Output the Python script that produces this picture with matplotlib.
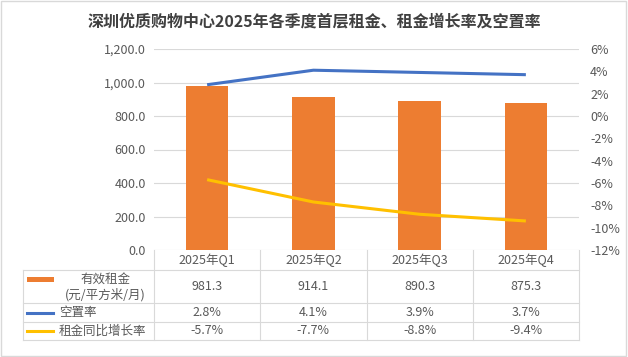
import matplotlib
matplotlib.use("Agg")
import matplotlib.pyplot as plt
from matplotlib.lines import Line2D
from matplotlib.patches import Rectangle
import matplotlib.ticker as mticker

plt.rcParams['font.family'] = ['Noto Sans CJK SC', 'DejaVu Sans']

# data
quarters = ['2025年Q1', '2025年Q2', '2025年Q3', '2025年Q4']
rent = [981.3, 914.1, 890.3, 875.3]          # 有效租金 (元/平方米/月)
vacancy = [2.8, 4.1, 3.9, 3.7]               # 空置率 %
rent_growth = [-5.7, -7.7, -8.8, -9.4]       # 租金同比增长率 %
row_labels = ['有效租金\n(元/平方米/月)', '空置率', '租金同比增长率']

title = '深圳优质购物中心2025年各季度首层租金、租金增长率及空置率'

ORANGE = '#ED7D31'
BLUE = '#4472C4'
YELLOW = '#FFC000'
GRID = '#D9D9D9'
TXT = '#595959'

W, H = 628, 357
fig = plt.figure(figsize=(W / 100, H / 100), dpi=100)


def fx(px):
    return px / W


def fy(py):
    return 1 - py / H


ax_l, ax_r, ax_t, ax_b = 154, 579, 49, 250
ax = fig.add_axes([fx(ax_l), fy(ax_b), fx(ax_r - ax_l), (ax_b - ax_t) / H])
x = list(range(len(quarters)))
ax.bar(x, rent, width=0.4, color=ORANGE, zorder=2)
ax.set_xlim(-0.5, len(quarters) - 0.5)
ax.set_ylim(0, 1200)
ax.set_yticks(range(0, 1201, 200))
ax.yaxis.set_major_formatter(mticker.FuncFormatter(lambda v, p: format(v, ',.1f')))
ax.grid(axis='y', color=GRID, lw=0.8, zorder=0)
ax.set_xticks([])
for s in ax.spines.values():
    s.set_visible(False)
ax.tick_params(axis='y', length=0, labelsize=9, labelcolor=TXT, pad=6)

ax2 = ax.twinx()
ax2.plot(x, vacancy, color=BLUE, lw=2.2, solid_capstyle='butt', zorder=3)
ax2.plot(x, rent_growth, color=YELLOW, lw=2.2, solid_capstyle='butt', zorder=3)
ax2.set_ylim(-12, 6)
ax2.set_yticks(range(-12, 7, 2))
ax2.yaxis.set_major_formatter(mticker.FuncFormatter(lambda v, p: f'{int(v)}%'))
for s in ax2.spines.values():
    s.set_visible(False)
ax2.tick_params(axis='y', length=0, labelsize=9, labelcolor=TXT, pad=8)

fig.text(0.5, fy(22), title, ha='center', va='center', fontsize=11.5,
         fontweight='bold', color='#404040')

# data table under the plot
tab_l = 23
col_w = (ax_r - ax_l) / len(quarters)
row_edges = [250, 270, 303, 322, 340]


def hline(py, x0, x1):
    fig.add_artist(Line2D([fx(x0), fx(x1)], [fy(py), fy(py)], color=GRID, lw=0.8))


def vline(px, y0, y1):
    fig.add_artist(Line2D([fx(px), fx(px)], [fy(y0), fy(y1)], color=GRID, lw=0.8))


for py in row_edges[1:]:
    hline(py, tab_l, ax_r)
for i in range(len(quarters) + 1):
    vline(ax_l + i * col_w, row_edges[0], row_edges[-1])
vline(tab_l, row_edges[1], row_edges[-1])

rows = [[f'{v:.1f}' for v in rent],
        [f'{v:.1f}%' for v in vacancy],
        [f'{v:.1f}%' for v in rent_growth]]

for i, q in enumerate(quarters):
    cx = ax_l + (i + 0.5) * col_w
    fig.text(fx(cx), fy((row_edges[0] + row_edges[1]) / 2), q, ha='center',
             va='center', fontsize=9, color=TXT)
    for r, vals in enumerate(rows):
        cy = (row_edges[r + 1] + row_edges[r + 2]) / 2
        fig.text(fx(cx), fy(cy), vals[i], ha='center', va='center',
                 fontsize=9, color=TXT)

# row headers with legend keys
fig.add_artist(Rectangle((fx(27), fy(282)), fx(54) - fx(27), (282 - 277) / H,
                         color=ORANGE, lw=0))
fig.text(fx(105), fy(287), row_labels[0], ha='center', va='center',
         fontsize=9, color=TXT, linespacing=1.25)
for r, col in [(1, BLUE), (2, YELLOW)]:
    cy = (row_edges[r + 1] + row_edges[r + 2]) / 2
    fig.add_artist(Line2D([fx(27), fx(53)], [fy(cy), fy(cy)], color=col, lw=2.2))
    fig.text(fx(59), fy(cy), row_labels[r], ha='left', va='center',
             fontsize=9, color=TXT)

fig.add_artist(Rectangle((0.002, 0.003), 0.995, 0.994, fill=False,
                         edgecolor=GRID, lw=1))

fig.savefig('out.png', dpi=100)
